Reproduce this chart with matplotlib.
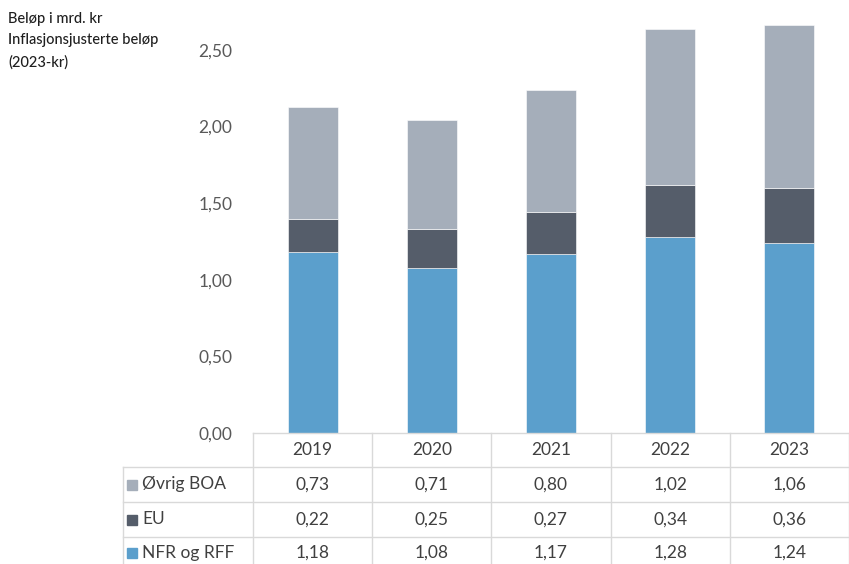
import numpy as np
import matplotlib
matplotlib.use('Agg')
import matplotlib.pyplot as plt
import matplotlib.transforms as mtransforms
from matplotlib.lines import Line2D
from matplotlib.patches import Rectangle

plt.rcParams['font.family'] = ['Lato', 'DejaVu Sans']

# data
years = ['2019', '2020', '2021', '2022', '2023']
series = ['Øvrig BOA', 'EU', 'NFR og RFF']
nfr = [1.18, 1.08, 1.17, 1.28, 1.24]
eu = [0.22, 0.25, 0.27, 0.34, 0.36]
ovrig = [0.73, 0.71, 0.80, 1.02, 1.06]
colors = {'NFR og RFF': '#5B9FCC', 'EU': '#555D6A', 'Øvrig BOA': '#A5AEBA'}
yticks = [0, 0.5, 1.0, 1.5, 2.0, 2.5]

W, H = 849, 564
fig = plt.figure(figsize=(W / 100, H / 100), dpi=100)

def fy(py):
    return 1 - py / H

ax = fig.add_axes([253 / W, fy(433), 1 - 253 / W, fy(11.7) - fy(433)])

x = np.arange(len(years))
nfr_a = np.array(nfr)
eu_a = np.array(eu)
ov_a = np.array(ovrig)
bw = 0.42
ax.bar(x, nfr_a, bw, color=colors['NFR og RFF'], edgecolor='white', linewidth=0.4)
ax.bar(x, eu_a, bw, bottom=nfr_a, color=colors['EU'], edgecolor='white', linewidth=0.4)
ax.bar(x, ov_a, bw, bottom=nfr_a + eu_a, color=colors['Øvrig BOA'], edgecolor='white', linewidth=0.4)

ax.set_xlim(-0.5, len(years) - 0.5)
ax.set_ylim(0, 2.75)
ax.set_yticks(yticks)
ax.set_yticklabels([f'{v:.2f}'.replace('.', ',') for v in yticks], fontsize=12.5, color='#595959')
ax.tick_params(axis='y', length=0, pad=15)
ax.set_xticks([])
for s in ax.spines.values():
    s.set_visible(False)

# data table below the chart
grid_c = '#D9D9D9'
trans = mtransforms.blended_transform_factory(ax.transData, fig.transFigure)
row_y = [433, 467, 502, 537, 570]
# horizontal lines
fig.add_artist(Line2D([253 / W, 1], [fy(433)] * 2, color=grid_c, lw=1))
for py in row_y[1:4]:
    fig.add_artist(Line2D([123 / W, 1], [fy(py)] * 2, color=grid_c, lw=1))
# vertical lines
for i in range(len(years) + 1):
    fig.add_artist(Line2D([i - 0.5] * 2, [fy(433), 0], color=grid_c, lw=1, transform=trans))
fig.add_artist(Line2D([123 / W] * 2, [fy(467), 0], color=grid_c, lw=1))

txt_c = '#404040'
for i, yr in enumerate(years):
    fig.text(i, fy(450), yr, transform=trans, ha='center', va='center', fontsize=12.5, color=txt_c)

rows = [('Øvrig BOA', ovrig), ('EU', eu), ('NFR og RFF', nfr)]
row_c = [484.5, 519.5, 553]
for (name, vals), py in zip(rows, row_c):
    fig.add_artist(Rectangle((127 / W, fy(py + 5)), 10 / W, 10 / H, color=colors[name],
                             transform=fig.transFigure))
    fig.text(142 / W, fy(py), name, ha='left', va='center', fontsize=12.5, color=txt_c)
    for i, v in enumerate(vals):
        fig.text(i, fy(py), f'{v:.2f}'.replace('.', ','), transform=trans,
                 ha='center', va='center', fontsize=12.5, color=txt_c)

fig.text(8 / W, fy(12), 'Beløp i mrd. kr\nInflasjonsjusterte beløp\n(2023-kr)',
         ha='left', va='top', fontsize=10.5, color='#1F1F1F', linespacing=1.68,
         fontweight='medium')

fig.savefig('out.png', dpi=100)
